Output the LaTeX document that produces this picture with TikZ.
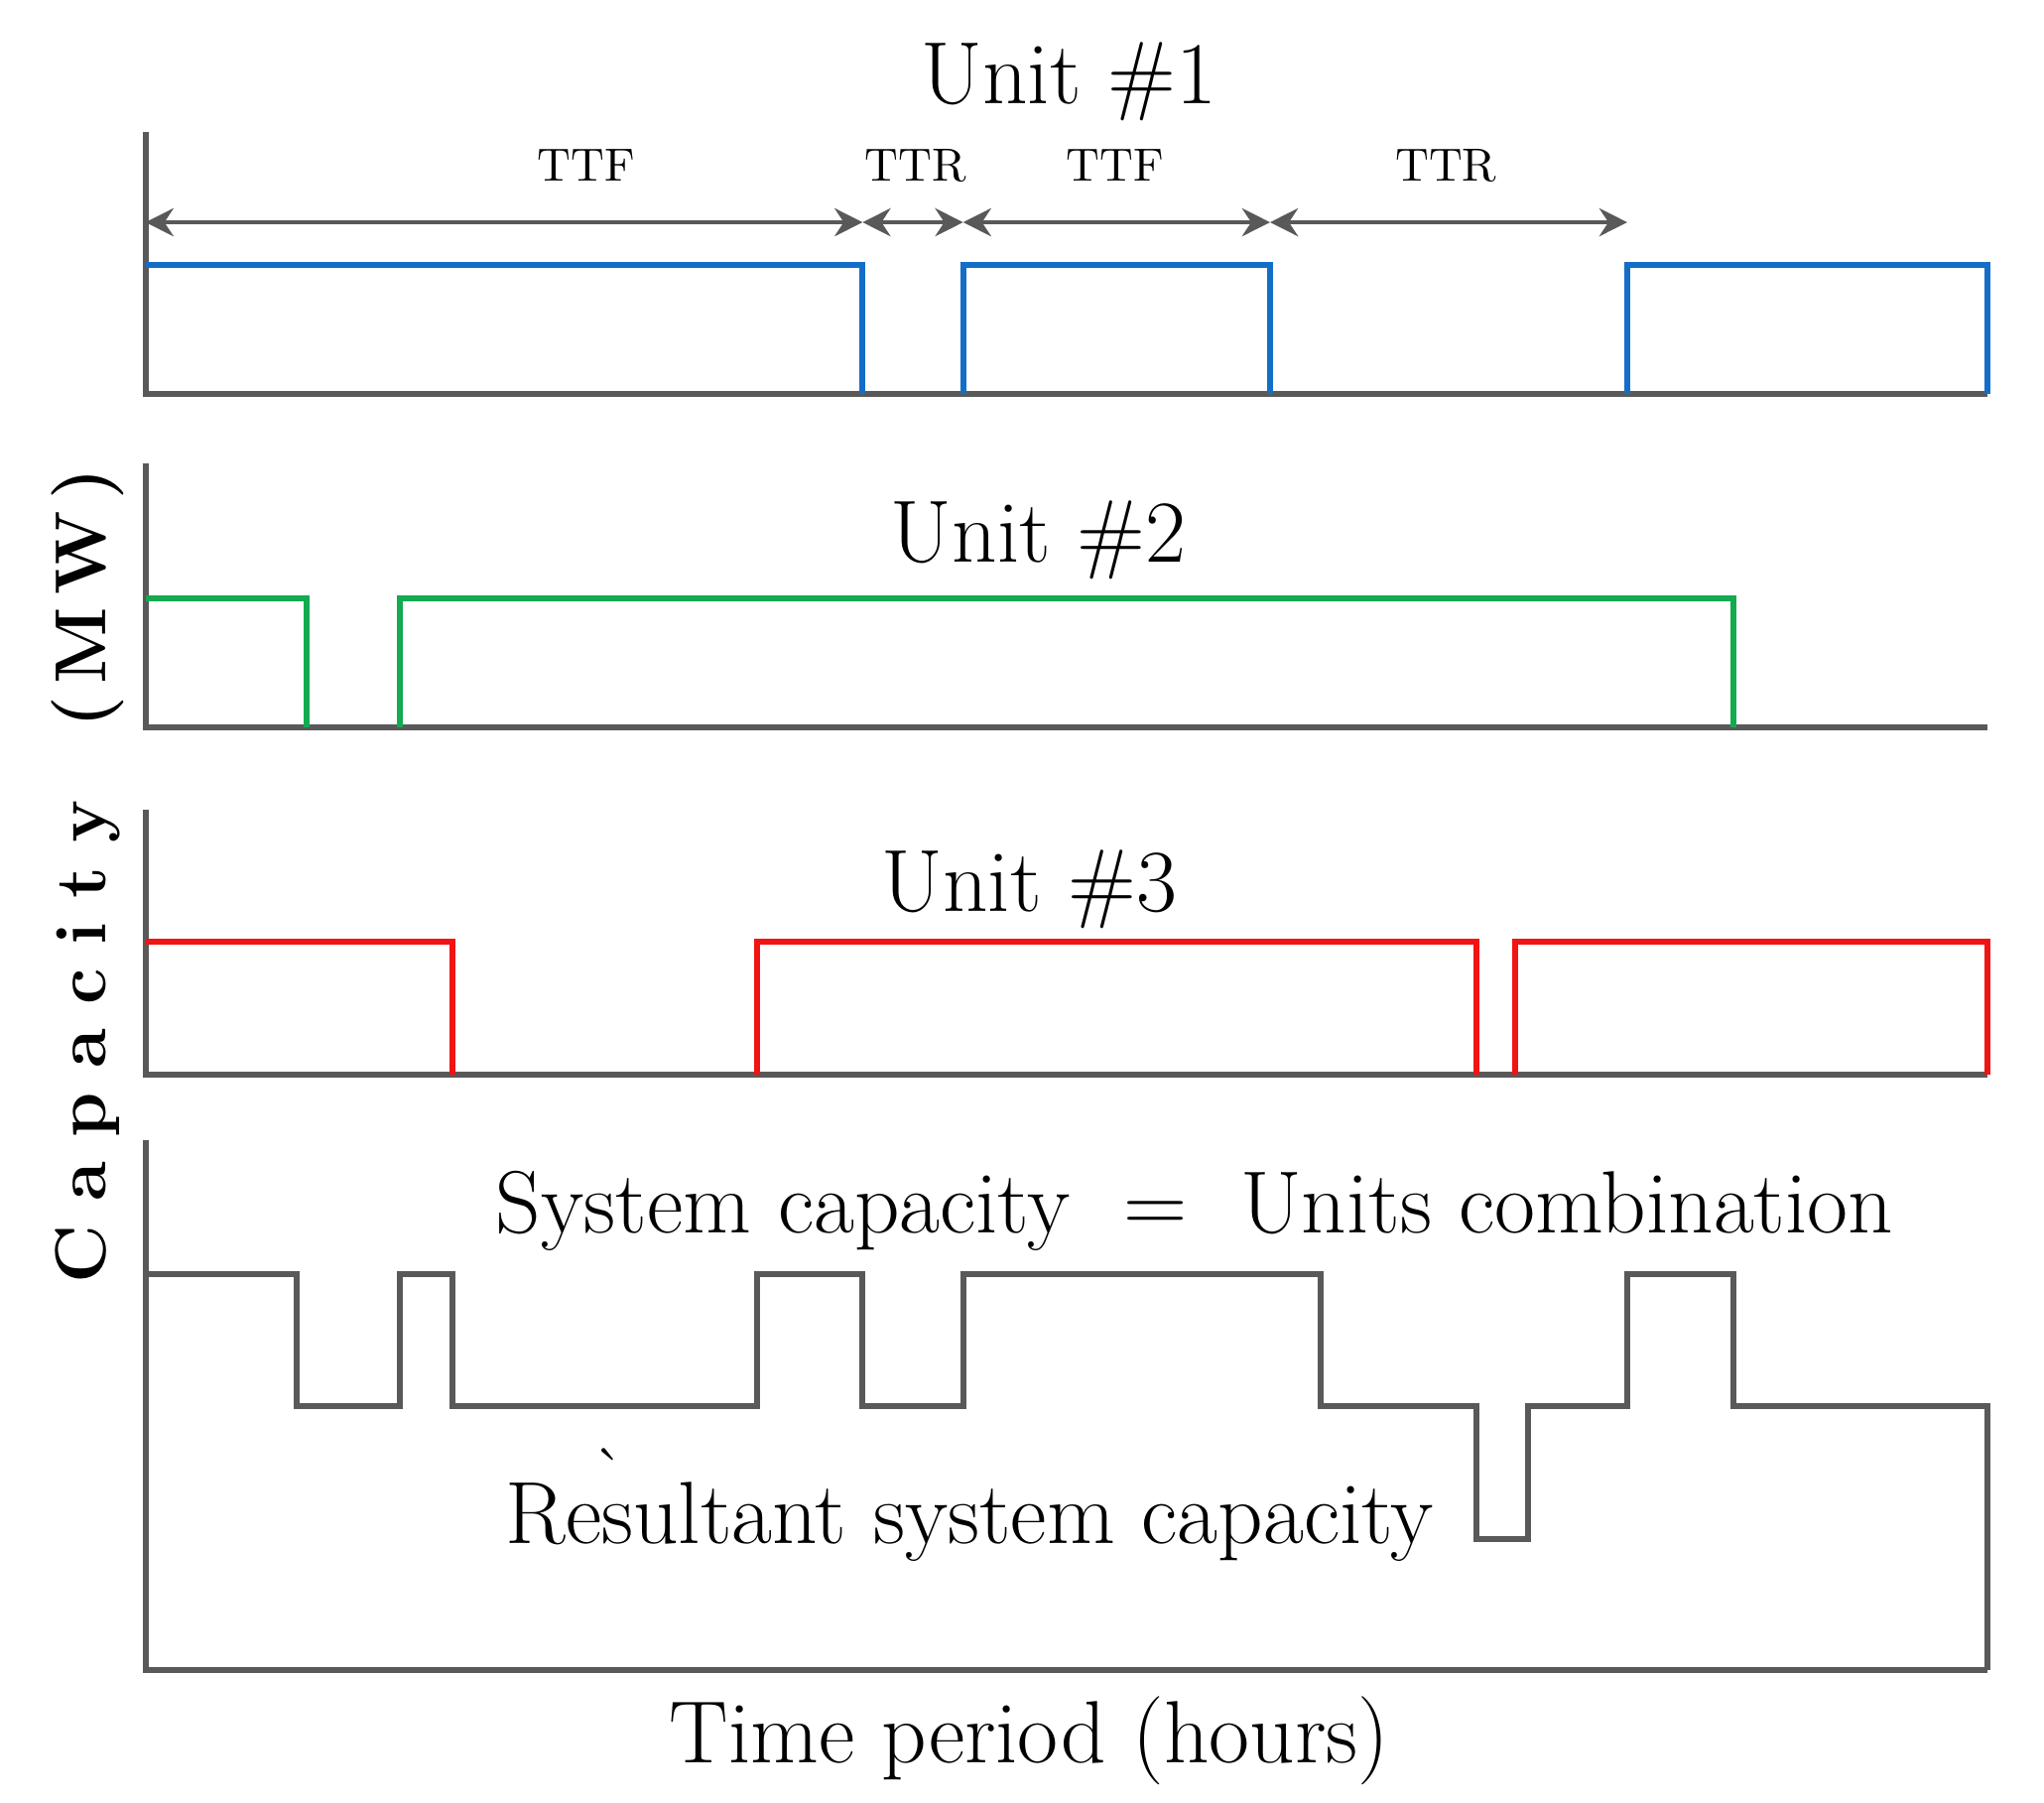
\documentclass[tikz,border=0pt]{standalone}
\usetikzlibrary{arrows.meta}
\begin{document}
\begin{tikzpicture}[x=0.01cm,y=-0.01cm,
  ax/.style={draw=black!65,line width=1.3pt},
  sig/.style={line width=1.3pt},
  dim/.style={draw=black!65,line width=1pt,{Stealth[length=6pt,width=6pt]}-{Stealth[length=6pt,width=6pt]}},
  big/.style={font=\fontsize{19}{22}\selectfont},
  small/.style={font=\fontsize{10}{12}\selectfont}]
\useasboundingbox (0,0) rectangle (1545,1362);
% Unit 1
\draw[ax] (110,100) -- (110,298) -- (1502,298);
\draw[sig,draw={rgb,255:red,20;green,110;blue,200}] (110,200) -- (652,200) -- (652,298) (728,298) -- (728,200) -- (960,200) -- (960,298) (1230,298) -- (1230,200) -- (1502,200) -- (1502,298);
\coordinate (a0) at (110,168); \coordinate (a1) at (652,168); \coordinate (a2) at (728,168); \coordinate (a3) at (960,168); \coordinate (a4) at (1230,168);
\draw[dim] (a0) -- (a1); \draw[dim] (a1) -- (a2); \draw[dim] (a2) -- (a3); \draw[dim] (a3) -- (a4);
\node[small] (l1) at (443,125) {TTF};
\node[small] (l2) at (692,125) {TTR};
\node[small] (l3) at (843,125) {TTF};
\node[small] (l4) at (1093,125) {TTR};
\node[big] (t1) at (808,62) {Unit \#1};
% Unit 2
\draw[ax] (110,350) -- (110,550) -- (1502,550);
\draw[sig,draw={rgb,255:red,20;green,170;blue,80}] (110,452) -- (232,452) -- (232,550) (302,550) -- (302,452) -- (1310,452) -- (1310,550);
\node[big] (t2) at (785,408) {Unit \#2};
% Unit 3
\draw[ax] (110,612) -- (110,812) -- (1502,812);
\draw[sig,draw={rgb,255:red,240;green,20;blue,20}] (110,712) -- (342,712) -- (342,812) (572,812) -- (572,712) -- (1116,712) -- (1116,812) (1145,812) -- (1145,712) -- (1502,712) -- (1502,812);
\node[big] (t3) at (778,672) {Unit \#3};
% System
\draw[ax] (110,862) -- (110,1262) -- (1502,1262);
\draw[ax,line join=miter] (110,963) -- (224,963) -- (224,1063) -- (302,1063) -- (302,963) -- (342,963) -- (342,1063) -- (572,1063) -- (572,963) -- (652,963) -- (652,1063) -- (728,1063) -- (728,963) -- (998,963) -- (998,1063) -- (1116,1063) -- (1116,1163) -- (1155,1163) -- (1155,1063) -- (1230,1063) -- (1230,963) -- (1310,963) -- (1310,1063) -- (1502,1063) -- (1502,1262);
\node[big] (s1) at (903,915) {System capacity \ = \ Units combination};
\node[big] (s2) at (733,1150) {Resultant system capacity};
\node[font=\fontsize{14}{14}\selectfont] (acc) at (461,1112) {\`{}};
\node[big] (xl) at (778,1316) {Time period (hours)};
\node[rotate=90,font=\fontsize{15.5}{18}\selectfont\bfseries] (yl) at (66,662) {C\,\,a\,\,p\,\,a\,\,c\,\,i\,\,t\,\,y\quad(\,M\,W\,)};
\end{tikzpicture}
\end{document}
